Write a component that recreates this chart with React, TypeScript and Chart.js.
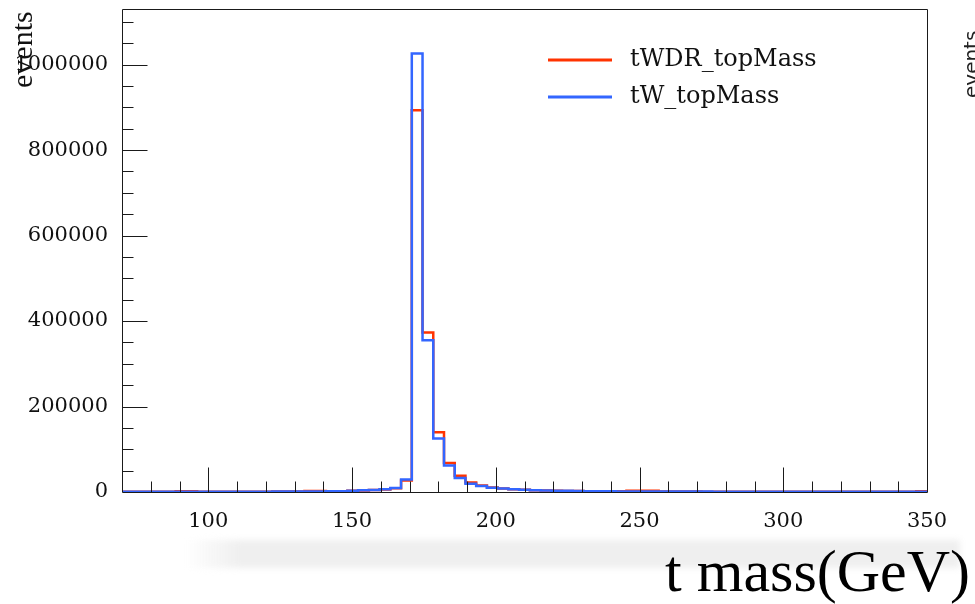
import React, { useEffect, useRef } from "react";
import { Chart, registerables } from "chart.js";

Chart.register(...registerables);

// Histogram definition
const X_MIN = 70;
const X_MAX = 350;
const N_BINS = 75;
const Y_MAX = 1130000;

const xTickValues = [100, 150, 200, 250, 300, 350];
const yTickValues = [0, 200000, 400000, 600000, 800000, 1000000];
const xMinorStep = 10;
const xMajorStep = 50;
const yMinorStep = 50000;
const yMajorStep = 200000;

const seriesNames = ["tWDR_topMass", "tW_topMass"];
const seriesColors = ["#ff3300", "#3366ff"];

const xTitle = "t mass(GeV)";
const yTitle = "events";

// bin contents (75 bins, 70 - 350 GeV)
const tWDRValues = [
  300, 300, 400, 400, 600, 1500, 1500, 600, 600, 700,
  700, 700, 800, 800, 900, 1000, 1200, 2400, 2400, 1600,
  2000, 2800, 3800, 4600, 6000, 8500, 27000, 893000, 373000, 140000,
  68000, 38000, 22500, 15000, 10500, 8000, 6500, 5000, 4000, 3300,
  2800, 2500, 2200, 2000, 1800, 1600, 1500, 3000, 3000, 3000,
  1000, 950, 900, 900, 850, 850, 800, 800, 750, 750,
  700, 700, 700, 650, 650, 600, 600, 600, 550, 550,
  550, 500, 500, 500, 1500,
];

const tWValues = [
  300, 300, 400, 400, 500, 500, 500, 600, 600, 600,
  700, 700, 800, 800, 900, 1000, 1100, 1200, 1400, 1800,
  2000, 3000, 4000, 4800, 6500, 9500, 29000, 1026000, 355000, 125000,
  62000, 33000, 19500, 14000, 10000, 8000, 6500, 5000, 4200, 3500,
  3000, 2700, 2300, 2000, 1800, 1600, 1400, 1300, 1200, 1100,
  1000, 1000, 950, 900, 900, 850, 850, 800, 800, 750,
  750, 700, 700, 700, 650, 650, 600, 600, 600, 550,
  550, 550, 500, 500, 500,
];

function histPoints(values: number[]) {
  const w = (X_MAX - X_MIN) / N_BINS;
  const pts = values.map((v, k) => ({ x: X_MIN + k * w, y: v }));
  pts.push({ x: X_MAX, y: values[values.length - 1] });
  return pts;
}

const rootDecor = {
  id: "rootDecor",
  afterDraw(chart: any) {
    const { ctx, chartArea: a } = chart;
    const xs = chart.scales.x;
    const ys = chart.scales.y;
    ctx.save();
    ctx.strokeStyle = "#1a1a1a";
    ctx.lineWidth = 1;
    const L = Math.round(a.left) + 0.5;
    const T = Math.round(a.top) + 0.5;
    const R = Math.round(a.right) + 0.5;
    const B = Math.round(a.bottom) + 0.5;
    ctx.beginPath();
    ctx.moveTo(L, T);
    ctx.lineTo(R, T);
    ctx.lineTo(R, B);
    ctx.lineTo(L, B);
    ctx.closePath();
    ctx.stroke();

    ctx.beginPath();
    for (let v = X_MIN + xMinorStep; v < X_MAX; v += xMinorStep) {
      const px = Math.round(xs.getPixelForValue(v)) + 0.5;
      const len = v % xMajorStep === 0 ? 25 : 11;
      ctx.moveTo(px, B);
      ctx.lineTo(px, B - len);
    }
    for (let v = yMinorStep; v < Y_MAX; v += yMinorStep) {
      const py = Math.round(ys.getPixelForValue(v)) + 0.5;
      const len = v % yMajorStep === 0 ? 25 : 11;
      ctx.moveTo(L, py);
      ctx.lineTo(L + len, py);
    }
    ctx.stroke();

    // legend
    const ds = chart.data.datasets;
    const legendY = [60, 97];
    ds.forEach((d: any, i: number) => {
      ctx.strokeStyle = d.borderColor;
      ctx.lineWidth = 3;
      ctx.beginPath();
      ctx.moveTo(548, legendY[i]);
      ctx.lineTo(612, legendY[i]);
      ctx.stroke();
      ctx.fillStyle = "#111";
      ctx.font = "24px 'DejaVu Serif'";
      ctx.textAlign = "left";
      ctx.textBaseline = "middle";
      ctx.fillText(d.label, 630, legendY[i]);
    });

    // y title (rotated)
    ctx.save();
    ctx.translate(32, 88);
    ctx.rotate(-Math.PI / 2);
    ctx.fillStyle = "#111";
    ctx.font = "30px 'Liberation Serif'";
    ctx.textAlign = "left";
    ctx.textBaseline = "alphabetic";
    ctx.fillText(yTitle, 0, 0);
    ctx.restore();

    // neighbouring panel's y title, cut by the edge
    ctx.save();
    ctx.translate(978, 98);
    ctx.rotate(-Math.PI / 2);
    ctx.fillStyle = "#222";
    ctx.font = "20px 'DejaVu Sans'";
    ctx.textBaseline = "alphabetic";
    ctx.fillText(yTitle, 0, 0);
    ctx.restore();

    // x title
    ctx.fillStyle = "#000";
    ctx.font = "60px 'Liberation Serif'";
    ctx.textAlign = "right";
    ctx.textBaseline = "alphabetic";
    ctx.fillText(xTitle, 970, 591);

    ctx.restore();
  },
};

export default function App() {
  const ref = useRef<HTMLCanvasElement | null>(null);

  useEffect(() => {
    document.body.style.margin = "0";
    if (!ref.current) return;
    const chart = new Chart(ref.current, {
      type: "line",
      data: {
        datasets: [
          {
            label: seriesNames[0],
            data: histPoints(tWDRValues),
            borderColor: seriesColors[0],
            borderWidth: 2.5,
            pointRadius: 0,
            stepped: "before",
            fill: false,
            order: 1,
          },
          {
            label: seriesNames[1],
            data: histPoints(tWValues),
            borderColor: seriesColors[1],
            borderWidth: 2.5,
            pointRadius: 0,
            stepped: "before",
            fill: false,
            order: 0,
          },
        ],
      },
      options: {
        animation: false,
        responsive: false,
        maintainAspectRatio: false,
        layout: { padding: { top: 9, right: 48, left: 0, bottom: 0 } },
        plugins: {
          legend: { display: false },
          tooltip: { enabled: false },
          title: { display: false },
        },
        scales: {
          x: {
            type: "linear",
            min: X_MIN,
            max: X_MAX,
            grid: { display: false, drawTicks: false },
            border: { display: false },
            ticks: {
              padding: 17,
              color: "#111",
              font: { family: "'DejaVu Serif'", size: 21 },
              maxRotation: 0,
              autoSkip: false,
              callback: (v: any) => String(v),
            },
            afterBuildTicks: (s: any) => {
              s.ticks = xTickValues.map((v) => ({ value: v }));
            },
            afterFit: (s: any) => {
              s.height = 112;
              s.paddingLeft = 0;
              s.paddingRight = 0;
            },
          },
          y: {
            type: "linear",
            min: 0,
            max: Y_MAX,
            grid: { display: false, drawTicks: false },
            border: { display: false },
            ticks: {
              padding: 14,
              color: "#111",
              font: { family: "'DejaVu Serif'", size: 21 },
              autoSkip: false,
              callback: (v: any) => String(v),
            },
            afterBuildTicks: (s: any) => {
              s.ticks = yTickValues.map((v) => ({ value: v }));
            },
            afterFit: (s: any) => {
              s.width = 122;
              s.paddingTop = 0;
              s.paddingBottom = 0;
            },
          },
        },
      },
      plugins: [rootDecor],
    });
    return () => chart.destroy();
  }, []);

  return (
    <div style={{ position: "relative", width: 975, height: 604, background: "#fff", overflow: "hidden" }}>
      <div
        style={{
          position: "absolute",
          left: 185,
          top: 540,
          width: 775,
          height: 28,
          background: "linear-gradient(to right, rgba(239,239,239,0) 0px, #efefef 55px, #efefef 100%)",
          filter: "blur(3px)",
        }}
      />
      <canvas ref={ref} width={975} height={604} style={{ position: "absolute", left: 0, top: 0, display: "block" }} />
    </div>
  );
}
